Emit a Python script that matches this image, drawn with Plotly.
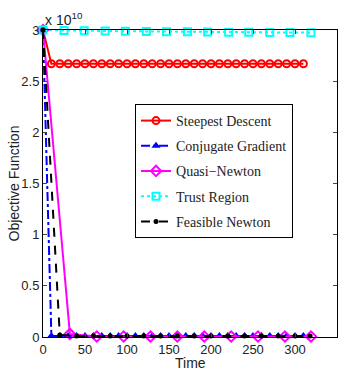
import plotly.graph_objects as go

# values in units of 1e10
sd_time = [0, 10, 20, 30, 40, 50, 60, 70, 80, 90, 100, 110, 120, 130, 140, 150,
           160, 170, 180, 190, 200, 210, 220, 230, 240, 250, 260, 270, 280, 290, 300, 310]
sd_val = [3.0, 2.67, 2.67, 2.67, 2.67, 2.67, 2.67, 2.67, 2.67, 2.67, 2.67, 2.67, 2.67, 2.67, 2.67, 2.67,
          2.67, 2.67, 2.67, 2.67, 2.67, 2.67, 2.67, 2.67, 2.67, 2.67, 2.67, 2.67, 2.67, 2.67, 2.67, 2.67]

cg_time = [0, 10, 20, 30, 40, 50, 60, 70, 80, 90, 100, 110, 120, 130, 140, 150,
           160, 170, 180, 190, 200, 210, 220, 230, 240, 250, 260, 270, 280, 290, 300, 310]
cg_val = [3.0, 0.01, 0.01, 0.01, 0.01, 0.01, 0.01, 0.01, 0.01, 0.01, 0.01, 0.01, 0.01, 0.01, 0.01, 0.01,
          0.01, 0.01, 0.01, 0.01, 0.01, 0.01, 0.01, 0.01, 0.01, 0.01, 0.01, 0.01, 0.01, 0.01, 0.01, 0.01]

qn_time = [0, 32, 64, 96, 128, 160, 192, 224, 256, 288, 319]
qn_val = [3.0, 0.03, 0.005, 0.005, 0.005, 0.005, 0.005, 0.005, 0.005, 0.005, 0.005]

tr_time = [0, 25, 49, 74, 98, 123, 147, 172, 196, 221, 245, 270, 294, 319]
tr_val = [3.0, 2.995, 2.993, 2.99, 2.988, 2.986, 2.984, 2.982, 2.98, 2.978, 2.977, 2.976, 2.975, 2.974]

fn_time = [0, 20, 40, 60, 80, 100, 120, 140, 160, 180, 200, 220, 240, 260, 280, 300, 318]
fn_val = [3.0, 0.02, 0.01, 0.01, 0.01, 0.01, 0.01, 0.01, 0.01, 0.01, 0.01, 0.01, 0.01, 0.01, 0.01, 0.01, 0.01]

x_ticks = [0, 50, 100, 150, 200, 250, 300, 350]
y_ticks = [0, 0.5, 1, 1.5, 2, 2.5, 3]
y_tick_text = ["0", "0.5", "1", "1.5", "2", "2.5", "3"]

fig = go.Figure()
fig.add_trace(go.Scatter(
    x=sd_time, y=sd_val, name="Steepest Descent", mode="lines+markers", legendgroup="a",
    line=dict(color="#ff0000", width=2),
    marker=dict(symbol="circle-open", size=7, color="#ff0000", line=dict(width=2)),
    cliponaxis=False))
fig.add_trace(go.Scatter(
    x=cg_time, y=cg_val, name="Conjugate Gradient", mode="lines+markers", legendgroup="b",
    line=dict(color="#0000ff", width=2, dash="dashdot"),
    marker=dict(symbol="triangle-up", size=8, color="#0000ff"),
    cliponaxis=False))
fig.add_trace(go.Scatter(
    x=qn_time, y=qn_val, name="Quasi\u2212Newton", mode="lines+markers", legendgroup="c",
    line=dict(color="#ff00ff", width=2),
    marker=dict(symbol="diamond-open", size=8, color="#ff00ff", line=dict(width=2)),
    cliponaxis=False))
fig.add_trace(go.Scatter(
    x=tr_time, y=tr_val, name="Trust Region", mode="lines+markers", legendgroup="d",
    line=dict(color="#00ffff", width=2, dash="dot"),
    marker=dict(symbol="square-open", size=7, color="#00ffff", line=dict(width=2)),
    cliponaxis=False))
fig.add_trace(go.Scatter(
    x=fn_time, y=fn_val, name="Feasible Newton", mode="lines+markers", legendgroup="e",
    line=dict(color="#000000", width=2, dash="dash"),
    marker=dict(symbol="circle", size=5, color="#000000"),
    cliponaxis=False))

axis_font = dict(family="Liberation Sans, Arial, sans-serif", size=14, color="#222222")
tick_font = dict(family="Liberation Sans, Arial, sans-serif", size=13, color="#222222")

fig.update_layout(
    width=346, height=376,
    margin=dict(l=43, r=9, t=30, b=39, autoexpand=False),
    plot_bgcolor="white", paper_bgcolor="white",
    font=axis_font,
    showlegend=True,
    legend=dict(
        x=0.313, y=0.759, xanchor="left", yanchor="top",
        bgcolor="white", bordercolor="black", borderwidth=1,
        font=dict(family="Liberation Serif, Times New Roman, serif", size=14, color="#222222"),
        tracegroupgap=4, itemwidth=30,
    ),
    xaxis=dict(
        range=[0, 350], tickvals=x_ticks, ticks="inside", ticklen=4,
        showline=True, linecolor="black", linewidth=1, mirror="ticks",
        showgrid=False, zeroline=False, tickfont=tick_font, automargin=False,
    ),
    yaxis=dict(
        range=[0, 3], tickvals=y_ticks, ticktext=y_tick_text, ticks="inside", ticklen=4,
        showline=True, linecolor="black", linewidth=1, mirror="ticks",
        showgrid=False, zeroline=False, tickfont=tick_font, automargin=False,
    ),
    annotations=[
        dict(text="x 10<sup>10</sup>", xref="paper", yref="paper", x=0.0, y=1.0,
             xanchor="left", yanchor="bottom", showarrow=False, font=axis_font),
        dict(text="Time", xref="paper", yref="paper", x=0.5, y=0, yshift=-26,
             xanchor="center", yanchor="middle", showarrow=False, font=axis_font),
        dict(text="Objective Function", xref="paper", yref="paper", x=0, xshift=-30, y=0.5,
             xanchor="center", yanchor="middle", textangle=-90, showarrow=False, font=axis_font),
    ],
)

fig.write_html("out.html", config={"displayModeBar": False},
               post_script="document.body.style.margin='0';document.body.style.overflow='hidden';")
